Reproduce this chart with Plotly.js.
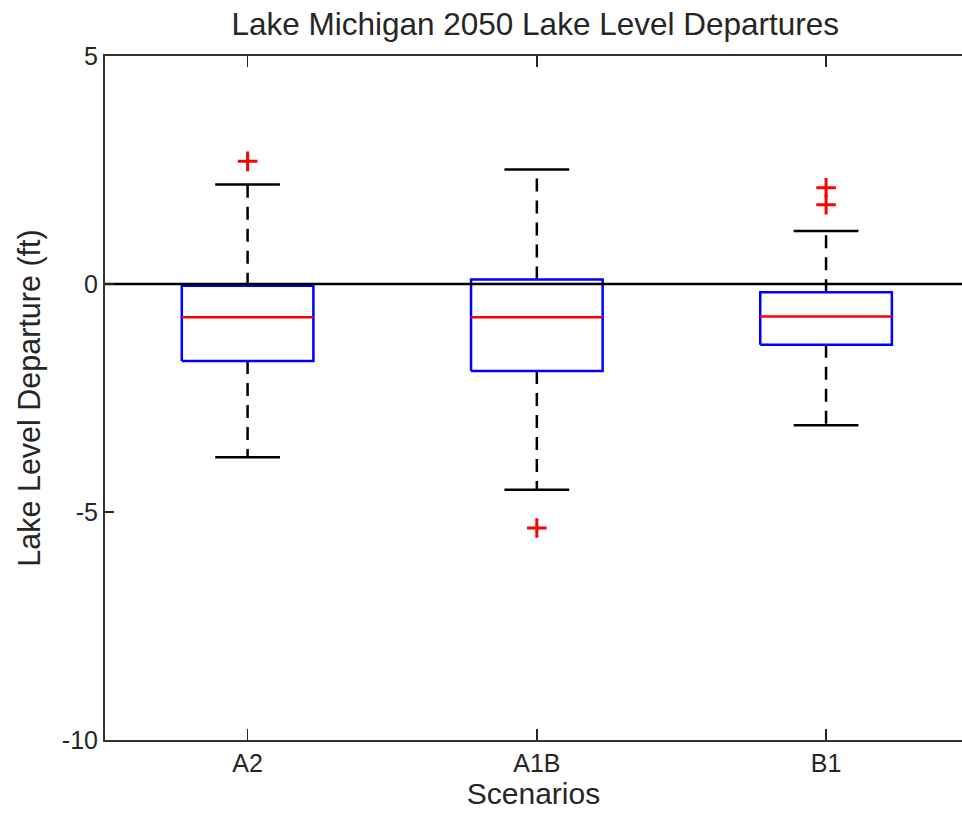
<!DOCTYPE html>
<html>
<head>
<meta charset="utf-8">
<script src="https://cdn.plot.ly/plotly-3.0.1.min.js"></script>
<style>html,body{margin:0;padding:0;background:#fff;}#chart{width:962px;height:820px;}</style>
</head>
<body>
<div id="chart"></div>
<script>
// ---- data ----
var categories = ['A2', 'A1B', 'B1'];
var q1Values = [-1.69, -1.91, -1.33];
var medianValues = [-0.73, -0.73, -0.71];
var q3Values = [-0.04, 0.10, -0.18];
var lowerWhisker = [-3.80, -4.51, -3.10];
var upperWhisker = [2.18, 2.51, 1.16];
var outliersA2 = [2.69];
var outliersA1B = [-5.35];
var outliersB1 = [2.11, 1.74];
var yTickValues = [-10, -5, 0, 5];
var yTickLabels = ['-10', '-5', '0', '5'];

// ---- build traces ----
var outlierSets = [outliersA2, outliersA1B, outliersB1];
var boxHalf = 0.2275, capHalf = 0.112;
var traces = [];
var xRange = [0.507, 3.47];

categories.forEach(function (c, i) {
  var x = i + 1;
  // whiskers (dashed)
  traces.push({x: [x, x], y: [q3Values[i], upperWhisker[i]], mode: 'lines', type: 'scatter',
    line: {color: '#000', width: 2.5, dash: '13px,9px'}, hoverinfo: 'skip', showlegend: false});
  traces.push({x: [x, x], y: [q1Values[i], lowerWhisker[i]], mode: 'lines', type: 'scatter',
    line: {color: '#000', width: 2.5, dash: '13px,9px'}, hoverinfo: 'skip', showlegend: false});
  // caps
  traces.push({x: [x - capHalf, x + capHalf], y: [upperWhisker[i], upperWhisker[i]], mode: 'lines', type: 'scatter',
    line: {color: '#000', width: 2.5}, hoverinfo: 'skip', showlegend: false});
  traces.push({x: [x - capHalf, x + capHalf], y: [lowerWhisker[i], lowerWhisker[i]], mode: 'lines', type: 'scatter',
    line: {color: '#000', width: 2.5}, hoverinfo: 'skip', showlegend: false});
  // box
  traces.push({x: [x - boxHalf, x + boxHalf, x + boxHalf, x - boxHalf, x - boxHalf],
    y: [q1Values[i], q1Values[i], q3Values[i], q3Values[i], q1Values[i]],
    mode: 'lines', type: 'scatter', line: {color: '#0000ff', width: 2.5}, hoverinfo: 'skip', showlegend: false});
  // median
  traces.push({x: [x - boxHalf, x + boxHalf], y: [medianValues[i], medianValues[i]], mode: 'lines', type: 'scatter',
    line: {color: '#ff0000', width: 2.5}, hoverinfo: 'skip', showlegend: false});
  // outliers
  var os = outlierSets[i];
  traces.push({x: os.map(function () { return x; }), y: os, mode: 'markers', type: 'scatter',
    marker: {symbol: 'cross-thin', size: 14, color: '#ff0000', line: {color: '#ff0000', width: 3}},
    hoverinfo: 'skip', showlegend: false});
});

// zero reference line drawn on top of the boxes
traces.push({x: xRange, y: [0, 0], mode: 'lines', type: 'scatter',
  line: {color: '#000', width: 2.5}, hoverinfo: 'skip', showlegend: false});

var fontFam = '"Liberation Sans", Arial, Helvetica, sans-serif';
var layout = {
  width: 962, height: 820,
  margin: {l: 105, r: 0, t: 56, b: 80, pad: 0},
  paper_bgcolor: '#fff', plot_bgcolor: '#fff',
  font: {family: fontFam, color: '#262626'},
  title: {text: 'Lake Michigan 2050 Lake Level Departures', font: {size: 31.5, color: '#262626', family: fontFam},
    x: 0.502, xanchor: 'center', y: 1 - 24 / 820, yanchor: 'middle', xref: 'paper', yref: 'container'},
  xaxis: {range: xRange, tickvals: [1, 2, 3], ticktext: categories, ticks: 'inside', ticklen: 11,
    tickwidth: 1.5, tickcolor: '#262626', showline: true, linecolor: '#333', linewidth: 2, mirror: 'ticks',
    showgrid: false, zeroline: false, tickfont: {size: 25, color: '#262626'},
    title: {text: 'Scenarios', font: {size: 30, color: '#262626'}, standoff: 2}},
  yaxis: {range: [-10, 5], tickvals: yTickValues, ticktext: yTickLabels, ticks: 'inside', ticklen: 9, tickwidth: 1.5,
    tickcolor: '#262626', showline: true, linecolor: '#333', linewidth: 2, mirror: false,
    showgrid: false, zeroline: false, tickfont: {size: 25, color: '#262626'},
    title: {text: 'Lake Level Departure (ft)', font: {size: 30.5, color: '#262626'}, standoff: 12}}
};

Plotly.newPlot('chart', traces, layout, {displayModeBar: false, staticPlot: true});
</script>
</body>
</html>
